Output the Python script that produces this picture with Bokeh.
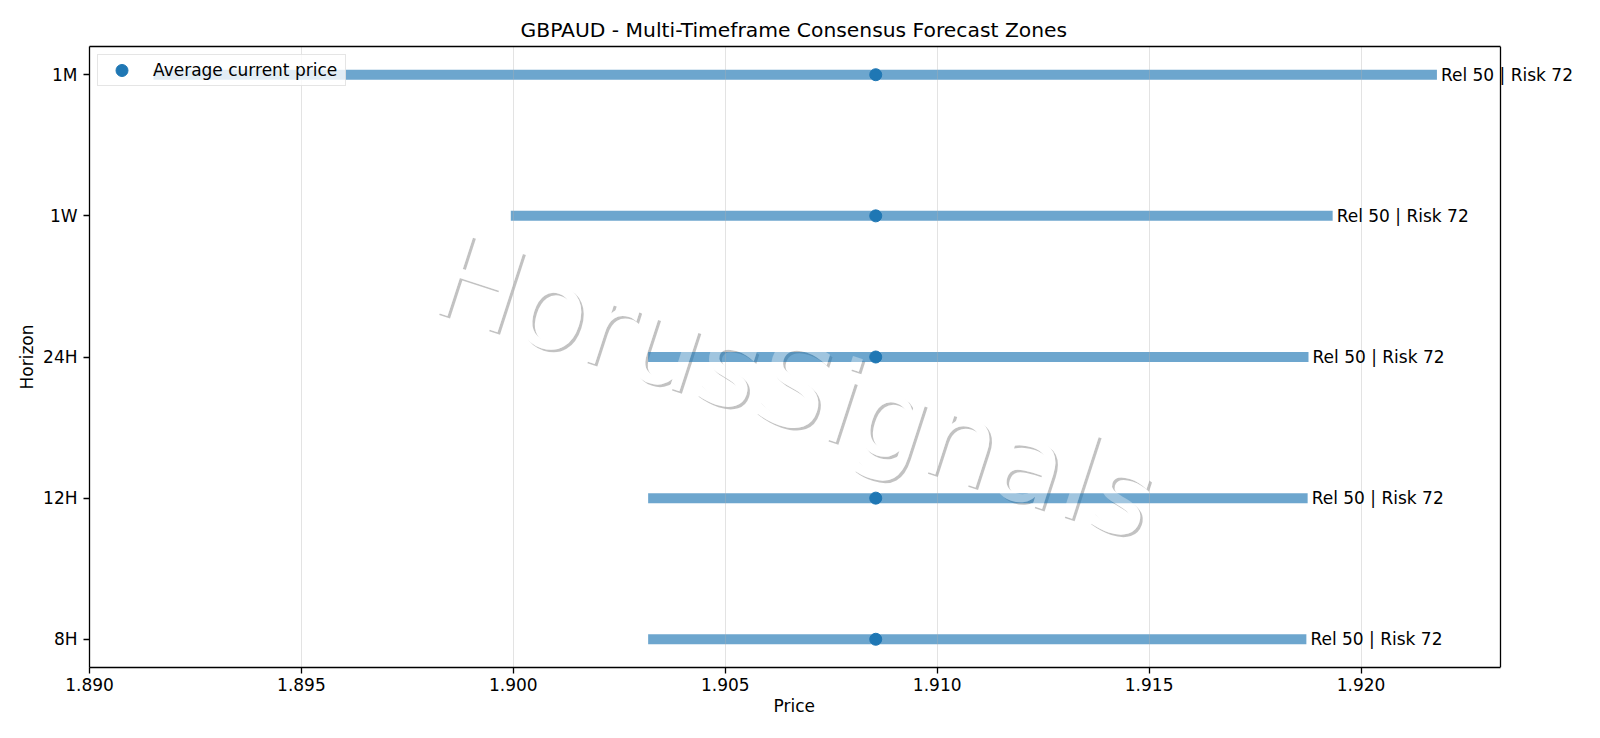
from bokeh.plotting import figure
from bokeh.models import (Range1d, FixedTicker, PrintfTickFormatter, ColumnDataSource, Label,
                          LinearAxis, Span, Title)
from bokeh.core.properties import value
from bokeh.embed import file_html
from bokeh.resources import INLINE

# ---- data ----
horizons = ["8H", "12H", "24H", "1W", "1M"]
zone_low = [1.90318, 1.90318, 1.90318, 1.89994, 1.89151]
zone_high = [1.91871, 1.91874, 1.91876, 1.91933, 1.92179]
avg_price = [1.90855, 1.90855, 1.90855, 1.90855, 1.90855]
rel_score = [50, 50, 50, 50, 50]
risk_score = [72, 72, 72, 72, 72]
x_ticks = [1.890, 1.895, 1.900, 1.905, 1.910, 1.915, 1.920]
chart_title = "GBPAUD - Multi-Timeframe Consensus Forecast Zones"
x_label = "Price"
y_label = "Horizon"
watermark = "HorusSignals"

FONT = "DejaVu Sans"
BLUE = "#1f77b4"

ypos = list(range(len(horizons)))
labels = [f"Rel {r} | Risk {k}" for r, k in zip(rel_score, risk_score)]
src = ColumnDataSource(dict(y=ypos, lo=zone_low, hi=zone_high, avg=avg_price, label=labels))

# axes box limits (the drawing area is widened to the right so that labels are not clipped)
x0, x1 = 1.890, 1.92329
y0, y1 = -0.2, len(horizons) - 1 + 0.2
AX_W, FRAME_W, FRAME_H = 1411, 1495, 621
x_view_max = x0 + (x1 - x0) * FRAME_W / AX_W

p = figure(frame_width=FRAME_W, frame_height=FRAME_H, output_backend="svg", toolbar_location=None,
           x_range=Range1d(x0, x_view_max), y_range=Range1d(y0, y1),
           min_border_left=89, min_border_right=0, min_border_top=46, min_border_bottom=55,
           background_fill_color="white", border_fill_color="white")

bottom_axis = p.below[0]
left_axis = p.left[0]

# top and right spines of the axes box
top = LinearAxis(bounds=(x0, x1), ticker=FixedTicker(ticks=[]), major_tick_out=0, major_tick_in=0,
                 minor_tick_out=0, minor_tick_in=0, major_label_standoff=0,
                 axis_line_color="black", axis_line_width=1.3)
p.add_layout(top, "above")
p.add_layout(Span(location=x1, dimension="height", line_color="black", line_width=1.3))

# title, centred over the axes box
p.add_layout(Title(text=chart_title, align="left", offset=431, standoff=10,
                   text_font=FONT, text_font_size="20.3px", text_font_style="normal",
                   text_color="black"), "above")

# watermark (axes-fraction placement)
wx = x0 + 0.5 * (x1 - x0)
wy = y0 + 0.452 * (y1 - y0)
wm = ColumnDataSource(dict(x=[wx], y=[wy], t=[watermark]))
common = dict(x="x", y="y", text="t", source=wm, angle=-18, angle_units="deg",
              text_font=value(FONT), text_font_size="115px",
              text_align="center", text_baseline="middle")
p.text(text_color="black", text_alpha=0.24, x_offset=2.5, y_offset=2.5, level="underlay", **common)
p.text(text_color="white", text_alpha=1.0, level="underlay", **common)

# zones
p.segment(x0="lo", y0="y", x1="hi", y1="y", source=src, line_width=10,
          line_color=BLUE, line_alpha=0.65, line_cap="butt")

# watermark veil over bars
p.text(text_color="white", text_alpha=0.35, **common)

# current price dots
p.scatter(x="avg", y="y", source=src, size=12, color=BLUE,
          legend_label="Average current price")

# labels to the right of zones
for yi, hi, txt in zip(ypos, zone_high, labels):
    p.add_layout(Label(x=hi, y=yi, text=txt, x_offset=4,
                       text_baseline="middle", text_align="left",
                       text_font=FONT, text_font_size="17px", text_color="black"))

# axes
bottom_axis.ticker = FixedTicker(ticks=x_ticks)
bottom_axis.formatter = PrintfTickFormatter(format="%.3f")
bottom_axis.bounds = (x0, x1)
left_axis.ticker = FixedTicker(ticks=ypos)
left_axis.major_label_overrides = {i: h for i, h in enumerate(horizons)}
left_axis.axis_label = y_label
for ax in (bottom_axis, left_axis):
    ax.axis_label_text_font = FONT
    ax.axis_label_text_font_size = "17px"
    ax.axis_label_text_font_style = "normal"
    ax.axis_label_text_color = "black"
    ax.major_label_text_font = FONT
    ax.major_label_text_font_size = "17px"
    ax.major_label_text_color = "black"
    ax.major_tick_out = 6
    ax.major_tick_in = 0
    ax.minor_tick_out = 0
    ax.minor_tick_in = 0
    ax.major_tick_line_color = "black"
    ax.major_tick_line_width = 1.3
    ax.axis_line_color = "black"
    ax.axis_line_width = 1.3
bottom_axis.major_label_standoff = 4
left_axis.major_label_standoff = 6
left_axis.axis_label_standoff = 3

# x axis label, centred under the axes box
p.add_layout(Title(text=x_label, align="left", offset=684, standoff=0,
                   text_font=FONT, text_font_size="17px", text_font_style="normal",
                   text_color="black"), "below")

p.outline_line_color = None

p.ygrid.visible = False
p.xgrid.grid_line_color = "#b0b0b0"
p.xgrid.grid_line_alpha = 0.35
p.xgrid.grid_line_width = 1
p.xgrid.level = "glyph"
p.xgrid.ticker = FixedTicker(ticks=x_ticks)

# legend
lg = p.legend[0]
lg.location = "top_left"
lg.margin = 8
lg.padding = 0
lg.spacing = 0
lg.glyph_width = 47
lg.glyph_height = 30
lg.label_height = 30
lg.label_width = 192
lg.label_standoff = 8
lg.label_text_font = FONT
lg.label_text_font_size = "17px"
lg.label_text_color = "black"
lg.border_line_color = "#cccccc"
lg.border_line_width = 1
lg.background_fill_alpha = 0.8

open("out.html", "w").write(file_html(p, INLINE))
